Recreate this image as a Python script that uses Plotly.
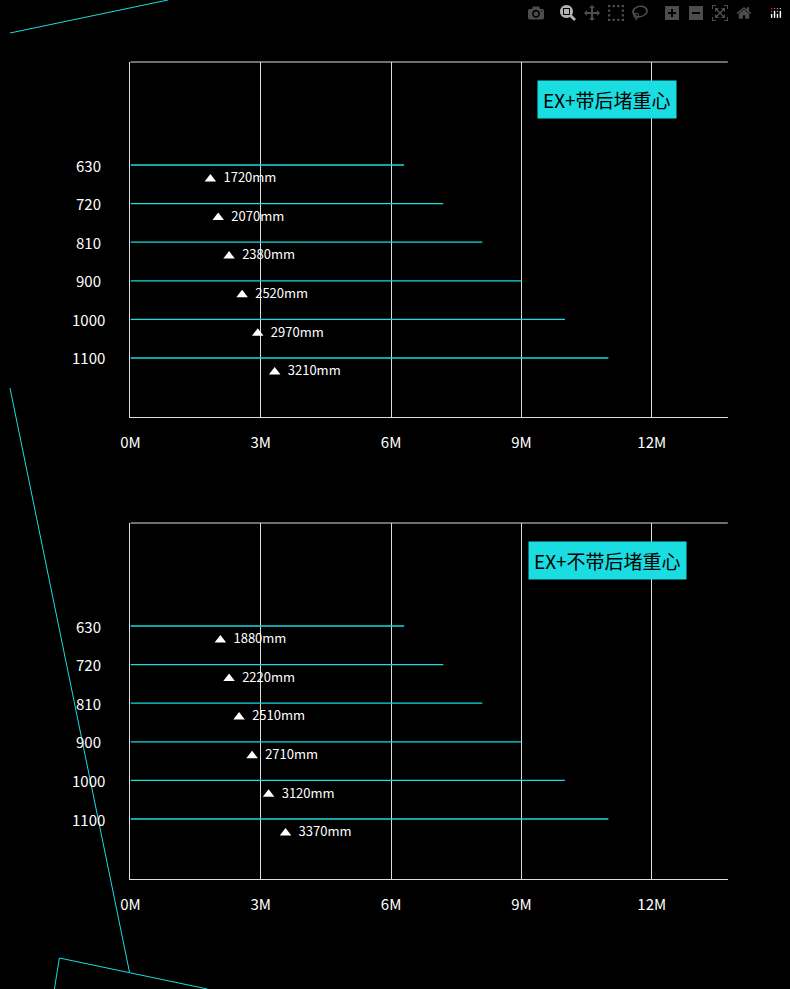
import plotly.graph_objects as go

categories = ["630", "720", "810", "900", "1000", "1100"]
bar_values = [6.3, 7.2, 8.1, 9.0, 10.0, 11.0]
marker_x_1 = [1.84, 2.02, 2.27, 2.57, 2.93, 3.32]
marker_lbl_1 = ["1720mm", "2070mm", "2380mm", "2520mm", "2970mm", "3210mm"]
marker_x_2 = [2.07, 2.27, 2.50, 2.80, 3.18, 3.57]
marker_lbl_2 = ["1880mm", "2220mm", "2510mm", "2710mm", "3120mm", "3370mm"]
titles = ["EX+带后堵重心", "EX+不带后堵重心"]
xticks = [0, 3, 6, 9, 12]
xticklabels = ["0M", "3M", "6M", "9M", "12M"]

W, H = 790, 989
CYAN = "#19dde0"
FONT = "Noto Sans CJK SC"
fig = go.Figure()

panels = [(62, 417, 165, marker_x_1, marker_lbl_1, (523, 82, 686, 116)),
          (523, 879, 626, marker_x_2, marker_lbl_2, (512, 543, 698, 577))]
step = 38.6
x0p, x1p = 122, 727
for i, (top, bot, y0, mx, ml, box) in enumerate(panels):
    n = "" if i == 0 else "2"
    ytop = (top - y0) / step
    ybot = (bot - y0) / step
    for j, (c, v) in enumerate(zip(categories, bar_values)):
        fig.add_trace(go.Scatter(x=[0, v], y=[j, j], mode="lines", line=dict(color=CYAN, width=1.3),
                                 xaxis="x" + n, yaxis="y" + n, showlegend=False, hoverinfo="skip"))
    fig.add_trace(go.Scatter(x=mx, y=[j + 0.36 for j in range(len(mx))], mode="markers+text",
                             marker=dict(symbol="triangle-up", color="white", size=10),
                             text=["  " + t for t in ml], textposition="middle right",
                             textfont=dict(color="white", size=13, family=FONT),
                             xaxis="x" + n, yaxis="y" + n, showlegend=False, hoverinfo="skip"))
    fig.layout["xaxis" + n] = dict(domain=[x0p / W, x1p / W], range=[0, 13.75], anchor="y" + n,
                                   tickvals=xticks, ticktext=xticklabels, showgrid=True,
                                   gridcolor="#dddddd", gridwidth=1, zeroline=False,
                                   showline=True, linecolor="#dddddd", linewidth=1,
                                   tickfont=dict(color="white", size=15, family=FONT),
                                   ticks="", ticklen=0, ticklabelstandoff=12)
    fig.layout["yaxis" + n] = dict(domain=[1 - bot / H, 1 - top / H], range=[ybot, ytop],
                                   anchor="x" + n, showgrid=False, zeroline=False,
                                   showticklabels=False, showline=True, linecolor="#dddddd", linewidth=1)
    fig.add_shape(type="line", xref="paper", yref="paper", x0=x0p / W, x1=x1p / W,
                  y0=1 - top / H, y1=1 - top / H, line=dict(color="#dddddd", width=1))
    for j, c in enumerate(categories):
        fig.add_annotation(xref="paper", yref="paper", x=80 / W, y=1 - (y0 + j * step) / H,
                           text=c, showarrow=False, xanchor="center", yanchor="middle",
                           font=dict(color="white", size=15, family=FONT))
    bx0, by0, bx1, by1 = box
    fig.add_annotation(xref="paper", yref="paper", x=(bx0 + bx1) / 2 / W, y=1 - (by0 + by1) / 2 / H,
                       text=titles[i], showarrow=False, bgcolor=CYAN, borderpad=5,
                       xanchor="center", yanchor="middle",
                       font=dict(color="black", size=19, family=FONT))

for (ax, ay, bx, by) in [(0, 33, 160, 0), (0, 388, 121, 972), (45, 989, 50, 958), (50, 958, 200, 989)]:
    fig.add_shape(type="line", xref="paper", yref="paper", x0=ax / W, y0=1 - ay / H, x1=bx / W, y1=1 - by / H,
                  line=dict(color=CYAN, width=1))

fig.update_layout(width=W, height=H, margin=dict(l=0, r=0, t=0, b=0),
                  paper_bgcolor="black", plot_bgcolor="black")
fig.write_html("out.html", post_script="document.body.style.margin='0';document.body.style.background='black';")
